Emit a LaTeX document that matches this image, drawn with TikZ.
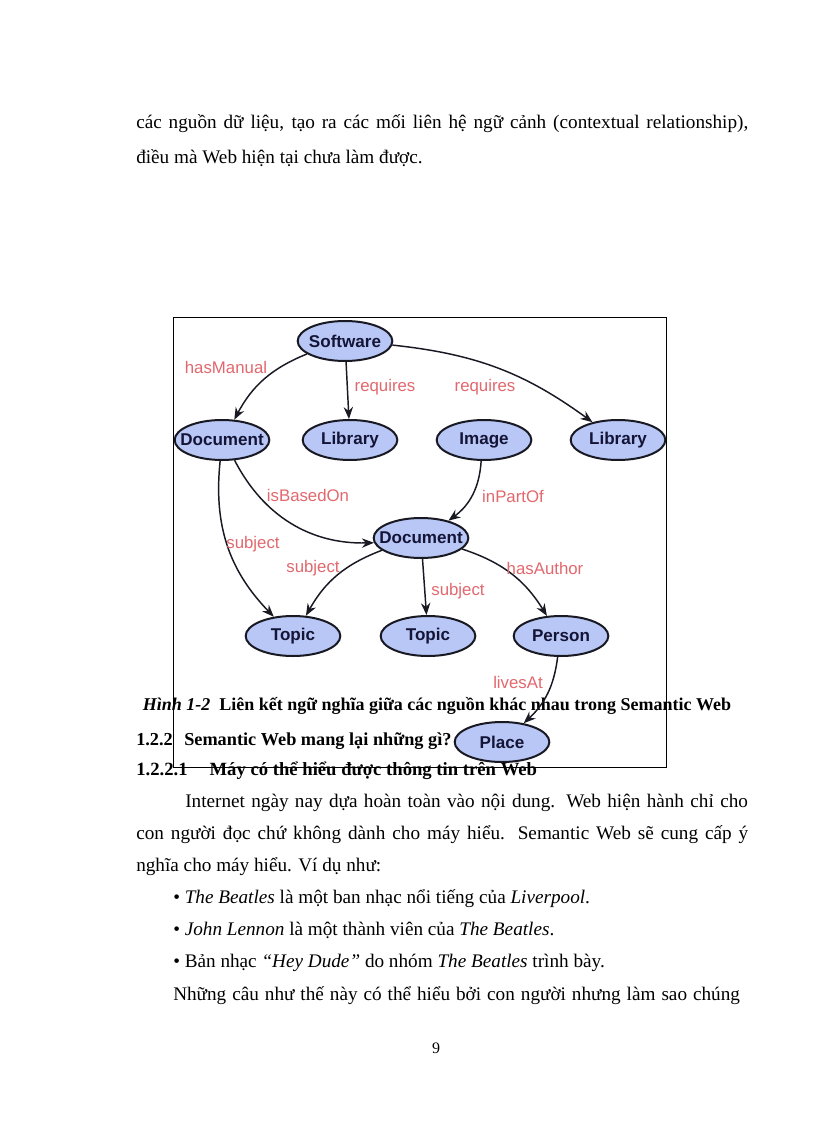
\documentclass[tikz,border=0pt]{standalone}
\usepackage{fontspec}
\setmainfont{Liberation Serif}
\setsansfont{Liberation Sans}
\usepackage{tikz}
\usetikzlibrary{shapes.geometric, arrows.meta, positioning}
\definecolor{entfill}{RGB}{184,199,245}
\definecolor{entline}{RGB}{25,25,35}
\definecolor{enttext}{RGB}{20,20,55}
\definecolor{relcolor}{RGB}{226,104,110}

\begin{document}
\begin{tikzpicture}[
  x=0.75pt, y=0.75pt,
  ent/.style={ellipse, draw=entline, line width=1.5pt, fill=entfill, minimum width=71pt, minimum height=30pt, inner sep=0pt},
  enttxt/.style={font=\sffamily\bfseries\fontsize{12.8}{14}\selectfont, text=enttext},
  rel/.style={font=\sffamily\fontsize{12.6}{14}\selectfont, text=relcolor},
  arrow/.style={-{Stealth[length=9pt,width=7pt]}, line width=1.1pt, color=entline},
  body/.style={font=\fontsize{14.4}{18}\selectfont, anchor=base west, inner sep=0pt},
  head/.style={body, font=\bfseries\fontsize{13.5}{18}\selectfont}
]
  \useasboundingbox[fill=white] (0,0) rectangle (816,-1123);

  % Khung hinh
  \draw[line width=0.75pt] (173,-317) rectangle (666,-767);

  % Cac tai nguyen
  \node[ent, label={[enttxt]center:Software}] (sw) at (345,-341) {};
  \node[ent, label={[enttxt]center:Document}] (doc1) at (222,-440) {};
  \node[ent, label={[enttxt]center:Library}] (lib1) at (350,-440) {};
  \node[ent, label={[enttxt]center:Image}] (img) at (484,-440) {};
  \node[ent, label={[enttxt]center:Library}] (lib2) at (618,-440) {};
  \node[ent, label={[enttxt]center:Document}] (doc2) at (421,-538) {};
  \node[ent, label={[enttxt]center:Topic}] (top1) at (293,-636) {};
  \node[ent, label={[enttxt]center:Topic}] (top2) at (428,-636) {};
  \node[ent, label={[enttxt]center:Person}] (pers) at (561,-636) {};

  % Cac quan he
  \draw[arrow] (sw) to[bend right=20] (doc1);
  \draw[arrow] (sw) -- (lib1);
  \draw[arrow] (sw) to[bend left=15] (lib2);
  \draw[arrow] (doc1) to[bend right=25] (top1);
  \draw[arrow] (doc1) to[bend right=32] (doc2);
  \draw[arrow] (img) to[bend left=25] (doc2);
  \draw[arrow] (doc2) to[bend right=20] (top1);
  \draw[arrow] (doc2) -- (top2);
  \draw[arrow] (doc2) to[bend left=20] (pers);

  \node[rel] (lmanual) at (226,-367) {hasManual};
  \node[rel] (lreq1) at (385,-387) {requires};
  \node[rel] (lreq2) at (485,-387) {requires};
  \node[rel] (lbased) at (308,-495) {isBasedOn};
  \node[rel] (lpart) at (513,-496) {inPartOf};
  \node[rel] (lsubj1) at (253,-544) {subject};
  \node[rel] (lsubj2) at (313,-568) {subject};
  \node[rel] (lsubj3) at (458,-591) {subject};
  \node[rel] (lauthor) at (545,-568) {hasAuthor};
  \node[rel] (llives) at (518,-682) {livesAt};

  % Van ban trang
  \node[body] (p1) at (136,-129) {\makebox[459pt][s]{các nguồn dữ liệu, tạo ra các mối liên hệ ngữ cảnh (contextual relationship),}};
  \node[body] (p2) at (136,-164) {điều mà Web hiện tại chưa làm được.};

  \node[head, anchor=base] (cap) at (437,-710) {\textit{Hình 1-2}\ \ Liên kết ngữ nghĩa giữa các nguồn khác nhau trong Semantic Web};
  \node[head, font=\bfseries\fontsize{13.7}{18}\selectfont] (h1) at (136,-745) {\makebox[36pt][l]{1.2.2}Semantic Web mang lại những gì?};

  % Place nam tren chu
  \node[ent, label={[enttxt]center:Place}] (plc) at (502,-742) {};
  \draw[arrow] (pers) to[bend left=20] (plc);

  \node[head, font=\bfseries\fontsize{14}{18}\selectfont] (h2) at (136,-775) {\makebox[55pt][l]{1.2.2.1}Máy có thể hiểu được thông tin trên Web};

  \node[body] (q1) at (185,-807) {\makebox[422pt][s]{Internet ngày nay dựa hoàn toàn vào nội dung. Web hiện hành chỉ cho}};
  \node[body] (q2) at (136,-839) {\makebox[459pt][s]{con người đọc chứ không dành cho máy hiểu. Semantic Web sẽ cung cấp ý}};
  \node[body] (q3) at (136,-871) {nghĩa cho máy hiểu. Ví dụ như:};
  \node[body] (b1) at (173,-903) {• \textit{The Beatles} là một ban nhạc nổi tiếng của \textit{Liverpool}.};
  \node[body] (b2) at (173,-935) {• \textit{John Lennon} là một thành viên của \textit{The Beatles}.};
  \node[body] (b3) at (173,-967) {• Bản nhạc \textit{“Hey Dude”} do nhóm \textit{The Beatles} trình bày.};
  \node[body] (q4) at (173,-1000) {\makebox[425pt][s]{Những câu như thế này có thể hiểu bởi con người nhưng làm sao chúng}};

  \node[body, anchor=base, font=\fontsize{12}{14}\selectfont] (pg) at (436,-1053) {9};
\end{tikzpicture}
\end{document}
